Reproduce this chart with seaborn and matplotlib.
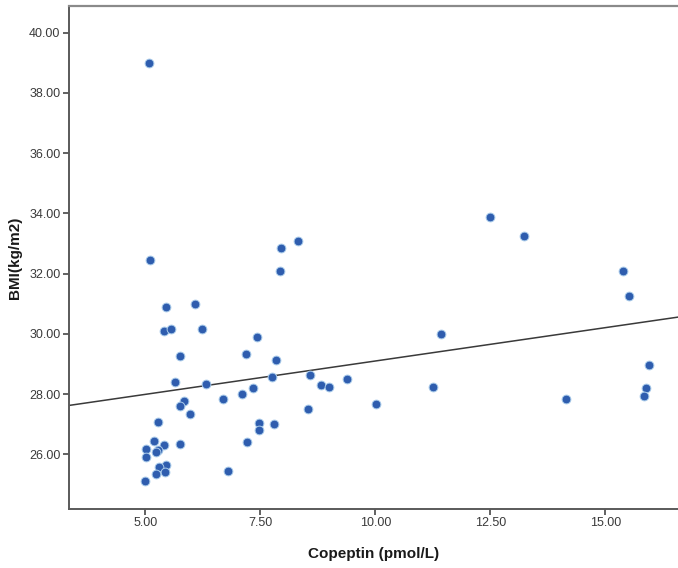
import matplotlib
matplotlib.use("Agg")
import matplotlib.pyplot as plt
import seaborn as sns
import pandas as pd
from matplotlib.ticker import FormatStrFormatter

# Copeptin (pmol/L) and BMI (kg/m2) per subject
copeptin = [5.07, 5.10, 5.44, 5.40, 5.56, 6.07, 6.23, 5.76, 5.65, 6.33,
            5.84, 5.75, 5.97, 5.28, 5.76, 5.20, 5.40, 5.02, 5.28, 5.23,
            5.02, 5.45, 5.29, 5.43, 5.23, 5.00, 6.80, 6.70, 7.10, 7.20,
            7.42, 7.35, 7.22, 7.48, 7.48, 7.75, 7.80, 7.85, 7.92, 7.94,
            8.31, 8.58, 8.53, 8.81, 8.99, 9.38, 10.01, 11.25, 11.42, 12.49,
            13.23, 14.15, 15.38, 15.51, 15.94, 15.88, 15.84]
bmi = [39.00, 32.46, 30.89, 30.08, 30.16, 30.99, 30.17, 29.25, 28.39, 28.34,
       27.76, 27.59, 27.34, 27.07, 26.34, 26.43, 26.29, 26.16, 26.14, 26.08,
       25.91, 25.65, 25.57, 25.41, 25.33, 25.12, 25.43, 27.82, 28.00, 29.32,
       29.90, 28.21, 26.41, 27.04, 26.80, 28.56, 27.02, 29.13, 32.07, 32.85,
       33.08, 28.62, 27.49, 28.31, 28.24, 28.50, 27.66, 28.23, 30.00, 33.88,
       33.25, 27.84, 32.07, 31.25, 28.96, 28.21, 27.93]

x_ticks = [5.0, 7.5, 10.0, 12.5, 15.0]
y_ticks = [26, 28, 30, 32, 34, 36, 38, 40]

df = pd.DataFrame({"Copeptin": copeptin, "BMI": bmi})

sns.set_style("ticks")
plt.rcParams["font.family"] = ["Liberation Sans", "DejaVu Sans"]

fig = plt.figure(figsize=(6.78, 5.68), dpi=100)
ax = fig.add_axes([68.7 / 678, 59 / 568, 1 - 68.7 / 678, 503 / 568])

ax.set_xlim(3.335, 16.58)
ax.set_ylim(24.18, 40.89)

# scatter with least-squares fit line spanning the full x range
sns.regplot(data=df, x="Copeptin", y="BMI", ax=ax, ci=None, truncate=False,
            scatter_kws=dict(s=40, color="#2F5DAE", edgecolor="#A9CBEA",
                             linewidths=0.7, alpha=1, zorder=3),
            line_kws=dict(color="#3a3a3a", linewidth=1.1, zorder=2))

ax.set_xlim(3.335, 16.58)
ax.set_ylim(24.18, 40.89)
ax.set_xticks(x_ticks)
ax.set_yticks(y_ticks)
ax.xaxis.set_major_formatter(FormatStrFormatter("%.2f"))
ax.yaxis.set_major_formatter(FormatStrFormatter("%.2f"))

ax.tick_params(axis="both", direction="out", length=4.5, width=1.3,
               color="#555555", labelsize=9, labelcolor="#3a3a3a", pad=1.5)

for side in ("left", "bottom"):
    ax.spines[side].set_color("#5a5a5a")
    ax.spines[side].set_linewidth(1.4)
ax.spines["top"].set_visible(True)
ax.spines["top"].set_color("#8a8a8a")
ax.spines["top"].set_linewidth(1.6)
ax.spines["right"].set_visible(False)

ax.set_xlabel("Copeptin (pmol/L)", fontsize=11, fontweight="bold",
              color="#1a1a1a", labelpad=13)
ax.set_ylabel("BMI(kg/m2)", fontsize=11, fontweight="bold",
              color="#1a1a1a", labelpad=5)

fig.savefig("out.png", dpi=100, facecolor="white")
